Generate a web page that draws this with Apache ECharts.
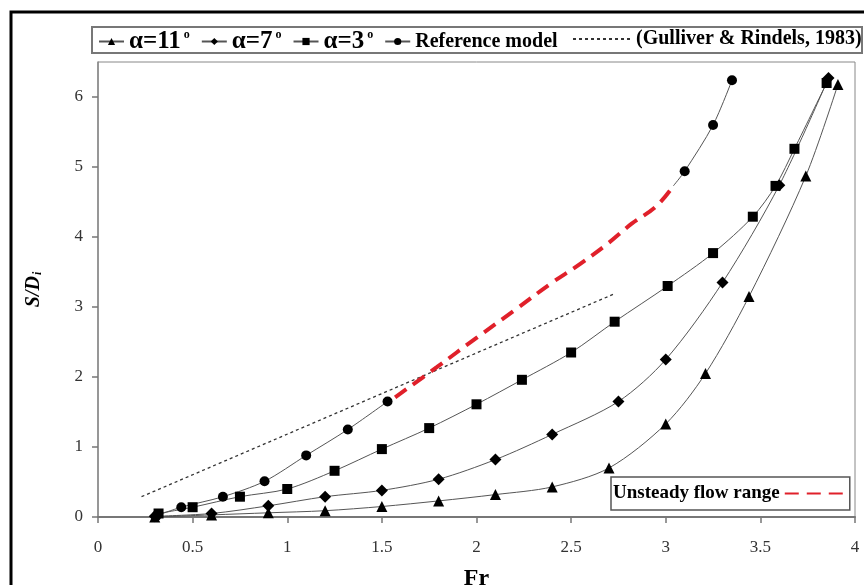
<!DOCTYPE html>
<html lang="en">
<head>
  <meta charset="UTF-8">
  <title>S/Di vs Fr</title>
  <style>
    html, body { margin: 0; padding: 0; background: #fff; }
    #chart { width: 864px; height: 585px; }
  </style>
</head>
<body>
  <div id="chart"></div>
  <script src="https://cdn.jsdelivr.net/npm/echarts@6.0.0/dist/echarts.min.js"></script>
  <script>
    // values
    const fr11 = [0.30, 0.60, 0.90, 1.20, 1.50, 1.80, 2.10, 2.40, 2.70, 3.00, 3.21, 3.44, 3.74, 3.91]
    const sd11 = [0.00, 0.03, 0.06, 0.09, 0.15, 0.23, 0.32, 0.43, 0.70, 1.33, 2.05, 3.15, 4.87, 6.18]

    const fr7 = [0.30, 0.60, 0.90, 1.20, 1.50, 1.80, 2.10, 2.40, 2.75, 3.00, 3.30, 3.60, 3.86]
    const sd7 = [0.01, 0.05, 0.16, 0.29, 0.38, 0.54, 0.82, 1.18, 1.65, 2.25, 3.35, 4.74, 6.27]

    const fr3 = [0.32, 0.50, 0.75, 1.00, 1.25, 1.50, 1.75, 2.00, 2.24, 2.50, 2.73, 3.01, 3.25, 3.46, 3.58, 3.68, 3.85]
    const sd3 = [0.05, 0.14, 0.29, 0.40, 0.66, 0.97, 1.27, 1.61, 1.96, 2.35, 2.79, 3.30, 3.77, 4.29, 4.73, 5.26, 6.20]

    // reference model, before and after the unsteady range
    const frRefA = [0.31, 0.44, 0.66, 0.88, 1.10, 1.32, 1.53]
    const sdRefA = [0.02, 0.14, 0.29, 0.51, 0.88, 1.25, 1.65]
    const frRefB = [3.04, 3.10, 3.25, 3.35]
    const sdRefB = [4.73, 4.94, 5.60, 6.24]

    const frUnsteady = [1.57, 1.79, 2.00, 2.20, 2.39, 2.55, 2.70, 2.82, 2.95, 3.04]
    const sdUnsteady = [1.71, 2.14, 2.56, 2.95, 3.33, 3.62, 3.92, 4.19, 4.44, 4.73]

    const frGulliver = [0.23, 2.73]
    const sdGulliver = [0.29, 3.19]

    const names = ['α=11°', 'α=7°', 'α=3°', 'Reference model']
    const gulliverName = '(Gulliver & Rindels, 1983)'
    const unsteadyName = 'Unsteady flow range'

    function pairs(xs, ys) {
      return xs.map((x, i) => [x, ys[i]])
    }

    const serif = 'Liberation Serif'
    const lineCol = '#555'
    const noSymbol = { color: 'rgba(0,0,0,0)', borderWidth: 0 }

    function markerSeries(name, xs, ys, symbol, size) {
      return {
        name: name,
        type: 'line',
        data: pairs(xs, ys),
        smooth: 0.3,
        symbol: symbol,
        symbolSize: size,
        showAllSymbol: true,
        itemStyle: { color: '#000' },
        lineStyle: { color: lineCol, width: 1 },
        emphasis: { disabled: true },
        z: 3
      }
    }

    const refB = pairs(frRefB, sdRefB)
    refB[0] = { value: refB[0], symbol: 'none' }

    const myChart = echarts.init(document.getElementById('chart'))
    const option = {
      animation: false,
      backgroundColor: '#fff',
      grid: {
        left: 98, right: 9, top: 62, bottom: 68,
        outerBoundsMode: 'none',
        containLabel: false,
        show: true, borderColor: '#888', borderWidth: 1
      },
      graphic: [
        // outer black frame
        { type: 'rect', shape: { x: 11, y: 12, width: 860, height: 590 },
          style: { fill: 'none', stroke: '#000', lineWidth: 3 }, z: 100 },
        // box around the top legend
        { type: 'rect', shape: { x: 92, y: 27, width: 770, height: 26 },
          style: { fill: 'none', stroke: '#777', lineWidth: 2 }, z: 100 }
      ],
      legend: [
        {
          data: names,
          left: 98, top: 29,
          itemWidth: 25, itemHeight: 9, itemGap: 11,
          padding: 0,
          selectedMode: false,
          textStyle: {
            fontFamily: serif, fontWeight: 'bold', fontSize: 20, color: '#000',
            rich: {
              a: { fontFamily: serif, fontWeight: 'bold', fontSize: 25, color: '#000' },
              o: { fontFamily: serif, fontWeight: 'bold', fontSize: 12, color: '#000', verticalAlign: 'top', padding: [0, 0, 8, 3] },
              r: { fontFamily: serif, fontWeight: 'bold', fontSize: 20, color: '#000' }
            }
          },
          formatter: function (name) {
            if (name.charAt(0) === 'α') {
              return '{a|' + name.slice(0, -1) + '}{o|o}'
            }
            return '{r|' + name + '}'
          }
        },
        {
          data: [{ name: gulliverName, itemStyle: noSymbol }],
          left: 572, top: 29,
          itemWidth: 58, itemHeight: 9,
          padding: 0,
          selectedMode: false,
          textStyle: { fontFamily: serif, fontWeight: 'bold', fontSize: 20, color: '#000' }
        },
        {
          data: [{ name: unsteadyName, itemStyle: noSymbol }],
          left: 611, top: 477,
          align: 'right',
          itemWidth: 62, itemHeight: 9,
          padding: [7, 2, 7, 2],
          borderColor: '#555', borderWidth: 1.5,
          backgroundColor: '#fff',
          selectedMode: false,
          textStyle: { fontFamily: serif, fontWeight: 'bold', fontSize: 19, color: '#000' }
        }
      ],
      xAxis: {
        type: 'value',
        min: 0, max: 4, interval: 0.5,
        name: 'Fr',
        nameLocation: 'middle',
        nameGap: 50,
        nameMoveOverlap: false,
        nameTextStyle: { fontFamily: serif, fontWeight: 'bold', fontSize: 24, color: '#000', verticalAlign: 'top' },
        axisLine: { onZero: false, lineStyle: { color: '#777', width: 2 } },
        axisTick: { show: true, length: 6, lineStyle: { color: '#777', width: 1.5 } },
        axisLabel: { margin: 22, fontFamily: serif, fontSize: 17, color: '#333' },
        splitLine: { show: false }
      },
      yAxis: {
        type: 'value',
        min: 0, max: 6.5, interval: 1,
        name: '{s|S/D}{i|i}',
        nameLocation: 'middle',
        nameGap: 54,
        nameMoveOverlap: false,
        nameTextStyle: {
          rich: {
            s: { fontFamily: serif, fontWeight: 'bold', fontStyle: 'italic', fontSize: 20, color: '#000' },
            i: { fontFamily: serif, fontWeight: 'bold', fontStyle: 'italic', fontSize: 12, color: '#000', verticalAlign: 'bottom', padding: [6, 0, 0, 1] }
          }
        },
        axisLine: { show: true, lineStyle: { color: '#888', width: 1.5 } },
        axisTick: { show: true, length: 6, lineStyle: { color: '#777', width: 1.5 } },
        axisLabel: { margin: 15, fontFamily: serif, fontSize: 17, color: '#333', showMaxLabel: false },
        splitLine: { show: false }
      },
      series: [
        markerSeries(names[0], fr11, sd11, 'triangle', 11),
        markerSeries(names[1], fr7, sd7, 'diamond', 12),
        markerSeries(names[2], fr3, sd3, 'rect', 10),
        markerSeries(names[3], frRefA, sdRefA, 'circle', 10),
        {
          name: names[3],
          type: 'line',
          data: refB,
          smooth: 0.3,
          symbol: 'circle',
          symbolSize: 10,
          itemStyle: { color: '#000' },
          lineStyle: { color: lineCol, width: 1 },
          emphasis: { disabled: true },
          z: 3
        },
        {
          name: gulliverName,
          type: 'line',
          data: pairs(frGulliver, sdGulliver),
          symbol: 'none',
          itemStyle: { color: '#333' },
          lineStyle: { color: '#333', width: 1.3, type: [3, 3] },
          emphasis: { disabled: true },
          z: 2
        },
        {
          name: unsteadyName,
          type: 'line',
          data: pairs(frUnsteady, sdUnsteady),
          smooth: 0.4,
          symbol: 'none',
          itemStyle: { color: '#e0202a' },
          lineStyle: { color: '#e0202a', width: 4, type: [14, 8] },
          emphasis: { disabled: true },
          z: 4
        }
      ]
    }
    myChart.setOption(option)
  </script>
</body>
</html>
